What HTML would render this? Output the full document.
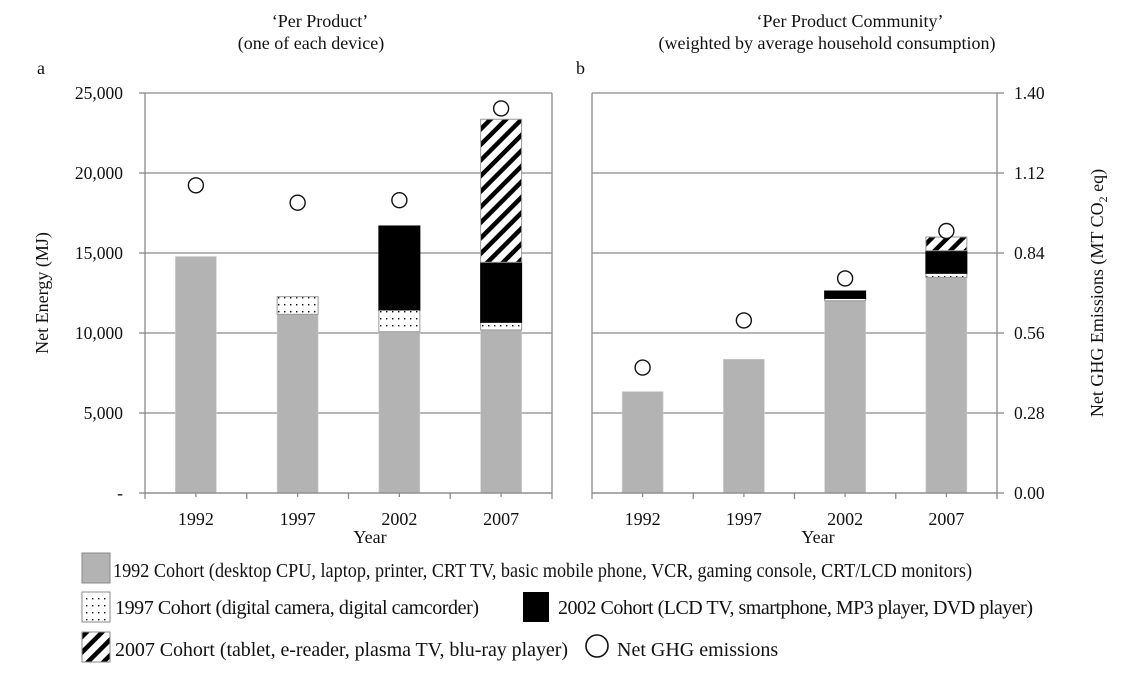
<!DOCTYPE html>
<html><head><meta charset="utf-8"><style>
html,body{margin:0;padding:0;background:#fff;}
svg{display:block;font-family:"Liberation Serif",serif;}
</style></head><body>
<svg id="chart" width="1137" height="673" viewBox="0 0 1137 673" xmlns="http://www.w3.org/2000/svg">
<defs>
<pattern id="dots" width="6" height="7" patternUnits="userSpaceOnUse"><rect width="6" height="7" fill="#fff"/><rect x="2" y="3" width="1.4" height="1.4" fill="#000"/></pattern>
<pattern id="hatch" width="11" height="11" patternUnits="userSpaceOnUse" patternTransform="rotate(45)"><rect width="11" height="11" fill="#fff"/><rect x="0" y="0" width="4.5" height="11" fill="#000"/></pattern>
</defs>
<g font-size="18" fill="#111">
<text x="320" y="27" text-anchor="middle">‘Per Product’</text>
<text x="311" y="49" text-anchor="middle">(one of each device)</text>
<text x="37" y="74">a</text>
<text x="850" y="27" text-anchor="middle">‘Per Product Community’</text>
<text x="827" y="49" text-anchor="middle">(weighted by average household consumption)</text>
<text x="576" y="74">b</text>
<text transform="translate(48,293) rotate(-90)" text-anchor="middle">Net Energy (MJ)</text>
<text transform="translate(1103,293) rotate(-90)" text-anchor="middle">Net GHG Emissions (MT CO<tspan font-size="12" dy="4">2</tspan><tspan dy="-4"> eq)</tspan></text>
<text x="370" y="543" text-anchor="middle">Year</text>
<text x="818" y="543" text-anchor="middle">Year</text>
</g>
<g id="plots"></g>
<g font-size="20" fill="#111">
<rect x="82" y="553" width="28" height="30" fill="#b3b3b3" stroke="#888"/>
<text x="113" y="577" font-size="19.5" textLength="859" lengthAdjust="spacingAndGlyphs">1992 Cohort (desktop CPU, laptop, printer,  CRT TV, basic mobile phone, VCR, gaming console, CRT/LCD monitors)</text>
<rect x="82" y="592" width="28" height="30" fill="url(#dots)" stroke="#888"/>
<text x="115" y="614" textLength="364">1997 Cohort (digital camera, digital camcorder)</text>
<rect x="523" y="592" width="26" height="30" fill="#000"/>
<text x="558" y="614" textLength="475">2002 Cohort (LCD TV, smartphone, MP3 player, DVD player)</text>
<rect x="82" y="632" width="28" height="30" fill="url(#hatch)" stroke="#888"/>
<text x="115" y="656" textLength="453">2007 Cohort (tablet, e-reader, plasma TV, blu-ray player)</text>
<circle cx="597" cy="646" r="11" fill="#fff" stroke="#111" stroke-width="1.6"/>
<text x="617" y="656">Net GHG emissions</text>
</g>
</svg>
<script>
const categories = ["1992","1997","2002","2007"];
const leftTicks = ["-","5,000","10,000","15,000","20,000","25,000"];
const leftTickValues = [0,5000,10000,15000,20000,25000];
const rightTicks = ["0.00","0.28","0.56","0.84","1.12","1.40"];
const rightTickValues = [0,0.28,0.56,0.84,1.12,1.40];
// Panel a: Net energy (MJ) per cohort
const a1992 = [14780, 11170, 10080, 10190];
const a1997 = [0, 1100, 1360, 480];
const a2002 = [0, 0, 5250, 3750];
const a2007 = [0, 0, 0, 8940];
const aGHG = [1.077, 1.016, 1.025, 1.346];
// Panel b: community-weighted (MT CO2 eq scale)
const b1992 = [0.355, 0.468, 0.673, 0.755];
const b1997 = [0, 0, 0.008, 0.014];
const b2002 = [0, 0, 0.026, 0.079];
const b2007 = [0, 0, 0, 0.048];
const bGHG = [0.439, 0.604, 0.751, 0.917];

const NS = "http://www.w3.org/2000/svg";
const root = document.getElementById("plots");
function mk(tag, attrs, parent){const e=document.createElementNS(NS,tag);for(const k in attrs)e.setAttribute(k,attrs[k]);(parent||root).appendChild(e);return e;}
const Y0=493, Y1=93;
function yE(v){return Y0-(v/25000)*(Y0-Y1);}
function yG(v){return Y0-(v/1.4)*(Y0-Y1);}

function panel(name,x0,x1,stacks,scale,ghg){
  const g=mk("g",{});
  
  
  const cw=(x1-x0)/categories.length;
  rightTickValues.forEach((v,i)=>{
    const y=yG(v);
    const l=mk("line",{x1:x0,x2:x1,y1:y,y2:y,stroke:"#8a8a8a","stroke-width":1.3},g);
    
    
  });
  const fills=["#b3b3b3","url(#dots)","#000","url(#hatch)"];
  const names=["1992","1997","2002","2007"];
  categories.forEach((c,i)=>{
    const cx=x0+cw*(i+0.5);
    let base=0;
    stacks.forEach((s,k)=>{
      const v=s[i]; if(v<=0) return;
      const yTop=scale(base+v), yB=scale(base);
      const r=mk("rect",{x:cx-20.5,y:yTop,width:41,height:yB-yTop,fill:fills[k],stroke:k===0?"#d0d0d0":(k===2?"#000":"#999"),"stroke-width":k===0?0.6:1},g);
      
      
      base+=v;
    });
    const ci=mk("circle",{cx:cx,cy:yG(ghg[i]),r:7.5,fill:"#fff",stroke:"#111","stroke-width":1.4},g);
    
    
    const t=mk("text",{x:cx,y:525,"text-anchor":"middle","font-size":18,fill:"#111"},g);
    t.textContent=c;
    
    
  });
  const ax=mk("path",{d:`M${x0},${Y1}V${Y0}H${x1}V${Y1}`,fill:"none",stroke:"#8a8a8a","stroke-width":1.3},g);
  
  
  for(let i=0;i<=categories.length;i++){
    const x=x0+cw*i;
    const tk=mk("line",{x1:x,x2:x,y1:Y0,y2:Y0+6,stroke:"#8a8a8a","stroke-width":1.3},g);
    
    
  }
  categories.forEach((c,i)=>{
    const x=x0+cw*(i+0.5);
    const tk=mk("line",{x1:x,x2:x,y1:Y0,y2:Y0+4,stroke:"#8a8a8a","stroke-width":1.3},g);
    
    
  });
  return g;
}
panel("panel-a",145,552,[a1992,a1997,a2002,a2007],yE,aGHG);
panel("panel-b",592,997,[b1992,b1997,b2002,b2007],yG,bGHG);

leftTickValues.forEach((v,i)=>{
  const y=yE(v);
  const l=mk("line",{x1:139,x2:145,y1:y,y2:y,stroke:"#8a8a8a","stroke-width":1.3});
  
  
  const t=mk("text",{x:123,y:y+6,"text-anchor":"end","font-size":17.5,fill:"#111"});
  t.textContent=leftTicks[i];
  
  
});
rightTickValues.forEach((v,i)=>{
  const y=yG(v);
  const l=mk("line",{x1:997,x2:1004,y1:y,y2:y,stroke:"#8a8a8a","stroke-width":1.3});
  
  
  const t=mk("text",{x:1014,y:y+6,"font-size":17.5,fill:"#111"});
  t.textContent=rightTicks[i];
  
  
});
</script>
</body></html>
